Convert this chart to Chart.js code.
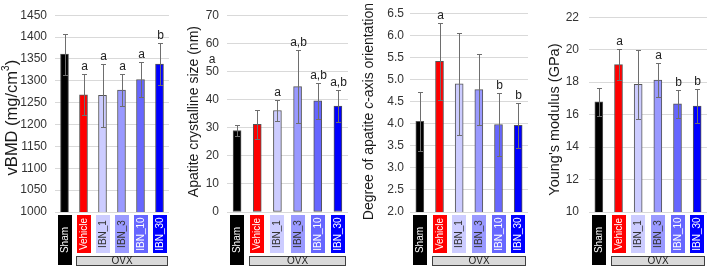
<!DOCTYPE html>
<html><head><meta charset="utf-8">
<script src="https://cdn.jsdelivr.net/npm/chart.js@4.4.0/dist/chart.umd.min.js"></script>
<style>
html,body{margin:0;padding:0;background:#fff;}
#wrap{position:relative;width:708px;height:267px;overflow:hidden;background:#fff;}
.panel{position:absolute;top:0;height:267px;}
canvas{display:block;}
</style></head><body>
<div id="wrap">
  <div class="panel" style="left:0px;width:172px"><canvas id="c1" width="172" height="267"></canvas></div>
  <div class="panel" style="left:177px;width:177px"><canvas id="c2" width="177" height="267"></canvas></div>
  <div class="panel" style="left:354px;width:177px"><canvas id="c3" width="177" height="267"></canvas></div>
  <div class="panel" style="left:531px;width:177px"><canvas id="c4" width="177" height="267"></canvas></div>
</div>
<script>
// ---- data ----
const categories = ['Sham', 'Vehicle', 'IBN_1', 'IBN_3', 'IBN_10', 'IBN_30'];
const groupLabel = 'OVX';

const vbmdMean = [1361, 1268, 1267, 1279, 1303, 1338];
const vbmdErr = [47, 47, 72, 37, 41, 48];
const vbmdLetters = ['', 'a', 'a', 'a', 'a', 'b'];
const vbmdTicks = [1000, 1450, 50];

const sizeMean = [29.0, 31.2, 36.1, 44.6, 39.5, 37.7];
const sizeErr = [2.1, 5.2, 3.7, 13.0, 6.5, 5.8];
const sizeLetters = ['', '', 'a', 'a,b', 'a,b', 'a,b'];
const sizeExtraLetter = ['a', 54];
const sizeTicks = [0, 70, 10];

const orientMean = [4.05, 5.41, 4.90, 4.77, 3.98, 3.96];
const orientErr = [0.67, 0.87, 1.16, 0.81, 0.72, 0.51];
const orientLetters = ['', 'a', '', '', 'b', 'b'];
const orientTicks = [2.0, 6.5, 0.5];

const youngMean = [16.78, 19.08, 17.86, 18.12, 16.66, 16.52];
const youngErr = [0.84, 0.97, 2.13, 1.06, 0.87, 1.03];
const youngLetters = ['', 'a', '', 'a', 'b', 'b'];
const youngTicks = [10, 22, 2];

// ---- styles ----
const barFill = ['#000000', '#ff0000', '#ccccff', '#9999ff', '#6666ff', '#0000ff'];
const labelText = ['#ffffff', '#ffffff', '#333333', '#333333', '#ffffff', '#ffffff'];
const FONT = '"Liberation Sans", Arial, sans-serif';

function drawRotatedTitle(ctx, segs, x, y, size) {
  ctx.save();
  ctx.translate(x, y);
  ctx.rotate(-Math.PI / 2);
  ctx.fillStyle = '#1a1a1a';
  ctx.textBaseline = 'middle';
  ctx.textAlign = 'left';
  let total = 0;
  const fontOf = s => (s.italic ? 'italic ' : '') + (s.sup ? Math.round(size * 0.62) : size) + 'px ' + FONT;
  segs.forEach(s => { ctx.font = fontOf(s); total += ctx.measureText(s.t).width; });
  let cx = -total / 2;
  segs.forEach(s => {
    ctx.font = fontOf(s);
    ctx.fillText(s.t, cx, s.sup ? -size * 0.33 : 0);
    cx += ctx.measureText(s.t).width;
  });
  ctx.restore();
}

function makePanel(id, p) {
  const annot = {
    id: 'annot' + id,
    afterDatasetsDraw(chart) {
      const ctx = chart.ctx;
      const ys = chart.scales.y;
      const meta = chart.getDatasetMeta(0);
      ctx.save();
      ctx.strokeStyle = '#6e6e6e';
      ctx.lineWidth = 1;
      p.mean.forEach((m, i) => {
        const x = Math.round(meta.data[i].x) + 0.5;
        const yt = Math.round(ys.getPixelForValue(m + p.err[i])) + 0.5;
        const yb = Math.round(ys.getPixelForValue(m - p.err[i])) + 0.5;
        ctx.beginPath();
        ctx.moveTo(x, yt); ctx.lineTo(x, yb);
        ctx.moveTo(x - 2.5, yt); ctx.lineTo(x + 2.5, yt);
        ctx.moveTo(x - 2.5, yb); ctx.lineTo(x + 2.5, yb);
        ctx.stroke();
        if (p.letters[i]) {
          ctx.fillStyle = '#222';
          ctx.font = '12px ' + FONT;
          ctx.textAlign = 'center';
          ctx.textBaseline = 'bottom';
          ctx.fillText(p.letters[i], x, yt - 2);
        }
      });
      if (p.extra) {
        ctx.fillStyle = '#222';
        ctx.font = '12px ' + FONT;
        ctx.textAlign = 'center';
        ctx.textBaseline = 'middle';
        ctx.fillText(p.extra[0], chart.chartArea.left - 15, ys.getPixelForValue(p.extra[1]));
      }
      ctx.restore();
    },
    afterDraw(chart) {
      const ctx = chart.ctx;
      const meta = chart.getDatasetMeta(0);
      const ca = chart.chartArea;
      ctx.save();
      const top = ca.bottom + 3;
      categories.forEach((c, i) => {
        const cx = Math.round(meta.data[i].x);
        const h = i === 0 ? 50 : 38;
        ctx.fillStyle = barFill[i];
        ctx.fillRect(cx - 7, top, 14, h);
        ctx.save();
        ctx.translate(cx + 0.5, top + h / 2);
        ctx.rotate(-Math.PI / 2);
        ctx.fillStyle = labelText[i];
        ctx.font = '10px ' + FONT;
        ctx.textAlign = 'center';
        ctx.textBaseline = 'middle';
        ctx.fillText(c, 0, 0);
        ctx.restore();
      });
      const x1 = Math.round(meta.data[1].x) - 8, x2 = Math.round(meta.data[5].x) + 8;
      const oy = ca.bottom + 44;
      ctx.fillStyle = '#d9d9d9';
      ctx.fillRect(x1, oy, x2 - x1, 9);
      ctx.strokeStyle = '#404040';
      ctx.lineWidth = 1;
      ctx.strokeRect(x1 + 0.5, oy + 0.5, x2 - x1 - 1, 9);
      ctx.fillStyle = '#222';
      ctx.font = '10px ' + FONT;
      ctx.textAlign = 'center';
      ctx.textBaseline = 'middle';
      ctx.fillText(groupLabel, (x1 + x2) / 2, oy + 5.5);
      drawRotatedTitle(ctx, p.title, p.titleX, (ca.top + ca.bottom) / 2 + p.titleDy, p.titleSize);
      ctx.restore();
    }
  };
  return new Chart(document.getElementById(id), {
    type: 'bar',
    data: {
      labels: categories,
      datasets: [{
        data: p.mean,
        backgroundColor: barFill,
        borderColor: '#555555',
        borderWidth: 1,
        borderSkipped: false,
        barThickness: 8
      }]
    },
    options: {
      responsive: false,
      animation: false,
      devicePixelRatio: 1,
      layout: { padding: { top: 12, bottom: 55, left: 0, right: p.padRight } },
      plugins: { legend: { display: false }, tooltip: { enabled: false } },
      scales: {
        x: { display: false, offset: true },
        y: {
          min: p.ticks[0], max: p.ticks[1],
          ticks: {
            stepSize: p.ticks[2],
            padding: p.tickPad,
            color: '#333',
            font: { family: FONT, size: 12 },
            callback: v => p.dec ? Number(v).toFixed(p.dec) : v
          },
          grid: { color: '#d9d9d9', drawTicks: false },
          border: { display: false },
          afterFit: s => { s.width = p.axisW; }
        }
      }
    },
    plugins: [annot]
  });
}

makePanel('c1', {
  mean: vbmdMean, err: vbmdErr, letters: vbmdLetters, ticks: vbmdTicks, dec: 0,
  title: [{ t: 'vBMD (mg/cm' }, { t: '3', sup: true }, { t: ')' }], titleX: 12, titleSize: 16.5, titleDy: 4,
  axisW: 55, padRight: 3, tickPad: 8
});
makePanel('c2', {
  mean: sizeMean, err: sizeErr, letters: sizeLetters, ticks: sizeTicks, dec: 0, extra: sizeExtraLetter,
  title: [{ t: 'Apatite crystalline size (nm)' }], titleX: 17, titleSize: 14, titleDy: -2,
  axisW: 50, padRight: 6, tickPad: 8
});
makePanel('c3', {
  mean: orientMean, err: orientErr, letters: orientLetters, ticks: orientTicks, dec: 1,
  title: [{ t: 'Degree of apatite ' }, { t: 'c', italic: true }, { t: '-axis orientation' }], titleX: 15, titleSize: 14, titleDy: -1,
  axisW: 56, padRight: 3, tickPad: 6
});
makePanel('c4', {
  mean: youngMean, err: youngErr, letters: youngLetters, ticks: youngTicks, dec: 0,
  title: [{ t: "Young's modulus (GPa)" }], titleX: 24, titleSize: 14.5, titleDy: 5,
  axisW: 58, padRight: 1, tickPad: 10
});
</script>
</body></html>
